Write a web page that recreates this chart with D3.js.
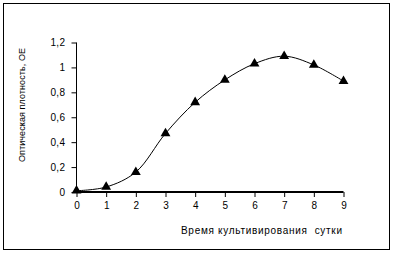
<!DOCTYPE html>
<html>
<head>
<meta charset="utf-8">
<script src="https://cdn.jsdelivr.net/npm/d3@7"></script>
<style>
  body { margin: 0; background: #fff; }
  text { font-family: "Liberation Sans", Arial, sans-serif; fill: #000; }
</style>
</head>
<body>
<div id="chart"></div>
<script>
const days = [0, 1, 2, 3, 4, 5, 6, 7, 8, 9];
const density = [0.01, 0.04, 0.16, 0.47, 0.72, 0.9, 1.03, 1.09, 1.02, 0.89];
const yTicks = [0, 0.2, 0.4, 0.6, 0.8, 1, 1.2];
const xTitle = 'Время культивирования  сутки';
const yTitle = 'Оптическая плотность, ОЕ';

const svg = d3.select('#chart')
  .append('svg')
    .attr('width', 393)
    .attr('height', 254);

svg.append('rect')
    .attr('x', 3.5)
    .attr('y', 3.5)
    .attr('width', 386)
    .attr('height', 246)
    .attr('fill', 'none')
    .attr('stroke', '#000');

const x = d3.scaleLinear().domain([0, 9]).range([76.5, 343.5]);
const y = d3.scaleLinear().domain([0, 1.2]).range([192, 42.5]);
const fmt = d => String(d).replace('.', ',');

// y axis
const gy = svg.append('g').attr('transform', 'translate(76.5,0)');
gy.call(d3.axisLeft(y).tickValues(yTicks).tickFormat(fmt).tickSize(5).tickPadding(6))
gy.select('.domain').attr('d', `M0,${y(1.2)}V${y(0)}`).attr('stroke', '#000');
gy.selectAll('text').attr('font-size', '10px').attr('letter-spacing', '0.4px');

// x axis
const gx = svg.append('g').attr('transform', `translate(0,${y(0)})`);
gx.call(d3.axisBottom(x).tickValues(days).tickSize(5).tickPadding(5));
gx.select('.domain').attr('d', `M${x(0)},0H${x(9)}`).attr('stroke', '#000').attr('stroke-width', 2);
gx.selectAll('text').attr('font-size', '10px');

svg.append('text')
    .attr('x', 181)
    .attr('y', 234)
    .attr('font-size', '10px')
    .attr('textLength', 161)
    .style('white-space', 'pre')
    .text(xTitle);

svg.append('text')
    .attr('transform', 'translate(25,105) rotate(-90)')
    .attr('text-anchor', 'middle')
    .attr('font-size', '9px')
    .attr('textLength', 114)
    .text(yTitle);

const line = d3.line()
    .x((d, i) => x(days[i]))
    .y(d => y(d))
    .curve(d3.curveCatmullRom.alpha(0.5));

svg.append('path')
    .datum(density)
    .attr('d', line)
    .attr('fill', 'none')
    .attr('stroke', '#000')
    .attr('stroke-width', 1);

svg.selectAll('.pt')
    .data(density)
  .join('path')
    .attr('class', 'pt')
    .attr('transform', (d, i) => `translate(${x(days[i])},${y(d)})`)
    .attr('d', d3.symbol(d3.symbolTriangle, 42))
    .attr('fill', '#000');
</script>
</body>
</html>
